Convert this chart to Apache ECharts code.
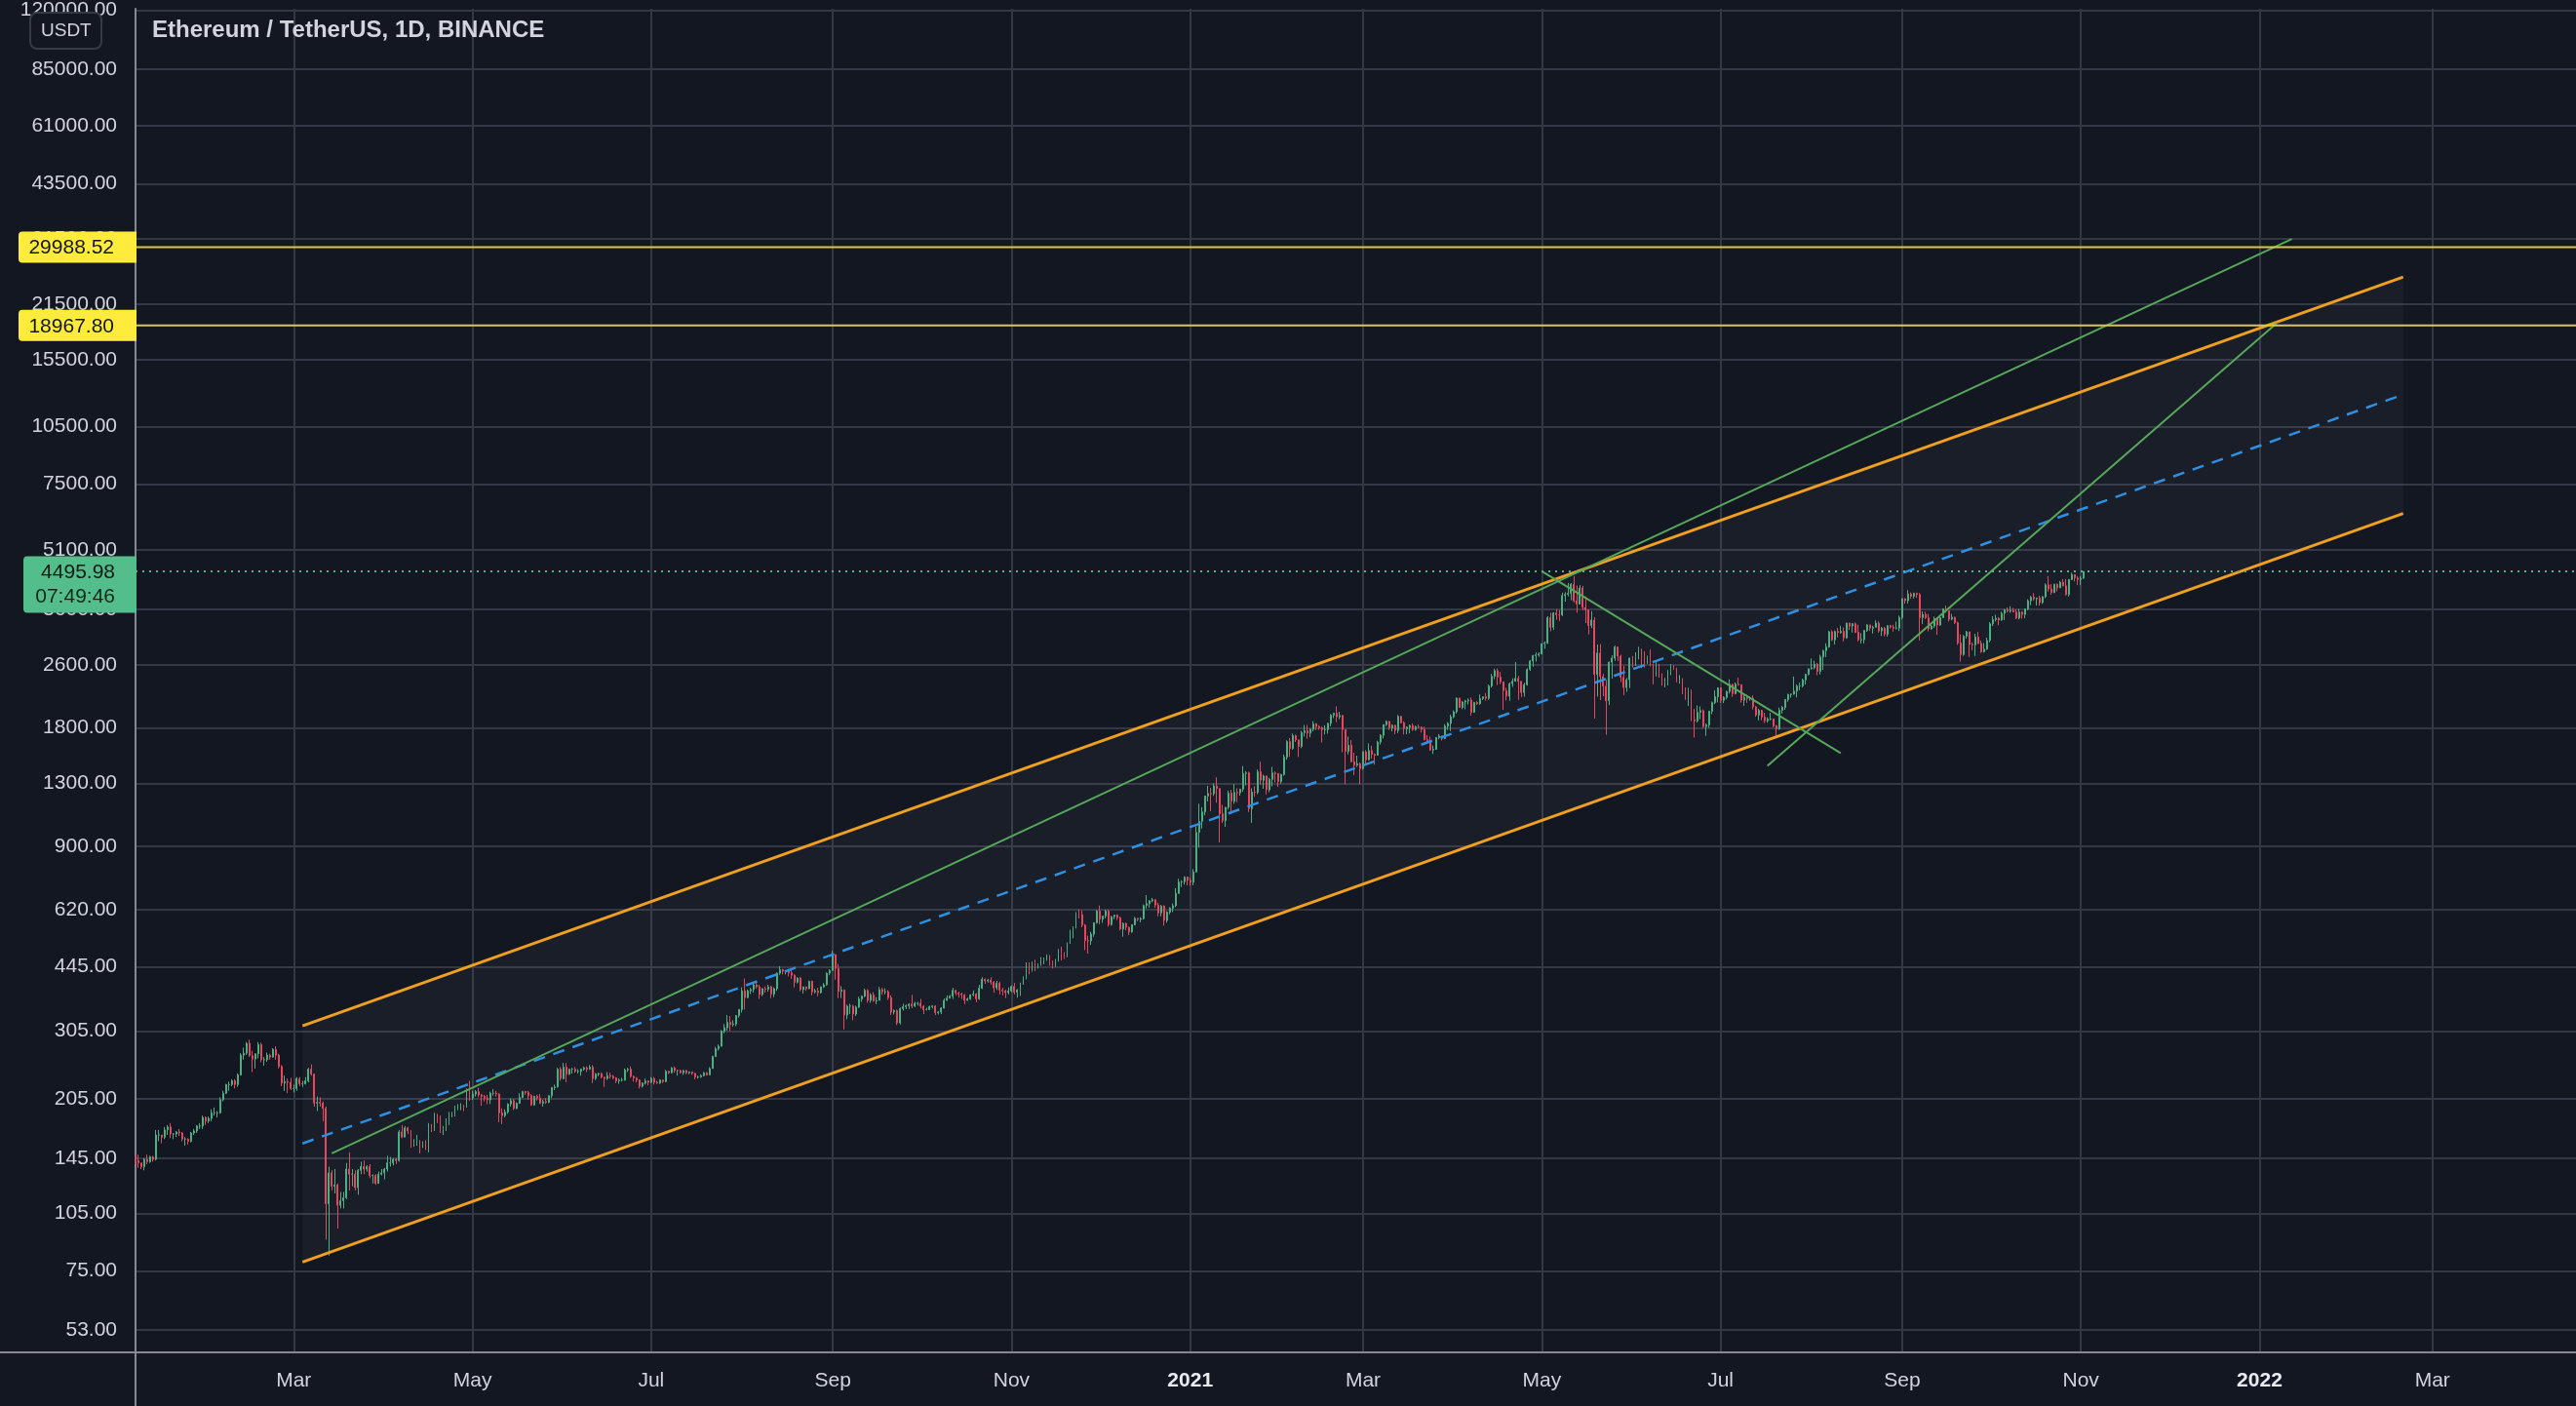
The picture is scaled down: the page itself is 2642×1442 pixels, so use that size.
<!DOCTYPE html>
<html><head><meta charset="utf-8">
<script src="https://cdn.jsdelivr.net/npm/echarts@6/dist/echarts.min.js"></script>
<style>html,body{margin:0;padding:0;background:#131722;}#chart{width:2642px;height:1442px;}</style>
</head><body><div id="chart"></div>
<script>
// ---- data ----
const startDate = '2020-01-07';
const endDate = '2022-04-19';
const firstOpen = 144;
// daily bars: [close, low, high]; open = previous close (24/7 market)
const bars = [
// 2020-01 (7..31)
[143,140,147],[141,137,148],[138,136,141],[144,135,145],[142,140,148],[146,141,147],[144,142,147],[166,143,171],[166,160,171],[164,158,166],[171,162,174],[174,166,176],[167,163,178],[167,162,168],[169,164,170],[168,165,172],[162,160,169],[162,156,164],[160,157,163],[168,159,169],[170,166,172],[175,168,176],[175,172,178],[184,172,186],[180,176,185],
// 2020-02
[183,178,185],[189,180,193],[189,186,195],[189,184,191],[204,188,207],[212,202,215],[223,211,224],[223,215,227],[228,221,230],[223,218,230],[236,220,238],[265,235,268],[268,258,277],[284,265,286],[264,262,290],[259,240,272],[267,245,268],[282,260,286],[258,254,285],[258,249,262],[265,255,269],[262,258,267],[274,261,276],[265,258,279],[248,245,267],[225,221,250],[227,215,235],[226,212,231],[218,216,232],
// 2020-03
[218,213,223],[231,215,233],[224,221,233],[224,220,228],[228,223,233],[244,226,246],[237,235,251],[200,196,238],[201,191,208],[200,196,207],[194,180,202],[111,90,196],[133,82,138],[123,120,135],[124,118,136],[110,96,125],[113,108,119],[115,108,119],[136,114,141],[132,120,150],[132,123,136],[122,120,135],[135,117,136],[138,132,142],[136,132,143],[138,134,139],[131,129,140],[131,125,132],[125,124,132],[132,125,134],[133,131,136],
// 2020-04
[136,128,137],[141,134,147],[141,138,146],[144,139,145],[143,140,145],[169,142,171],[164,163,176],[173,164,175],[170,167,174],[158,154,171],[158,155,162],[161,156,166],[156,149,161],[157,154,160],[153,152,161],[172,150,178],[171,169,177],[187,170,189],[180,178,188],[171,168,186],[171,166,175],[182,170,183],[185,176,190],[187,184,190],[194,185,197],[197,192,199],[197,192,200],[196,191,198],[216,195,218],[206,203,228],
// 2020-05
[211,204,215],[214,208,216],[210,207,219],[208,197,211],[206,202,210],[204,199,210],[212,199,214],[212,209,217],[211,208,215],[189,179,212],[186,177,194],[190,184,193],[199,188,200],[203,196,206],[194,192,205],[200,193,201],[207,199,212],[214,206,215],[213,210,215],[209,204,215],[198,197,211],[208,197,209],[206,203,210],[200,199,211],[202,196,204],[201,199,206],[209,200,210],[219,206,220],[220,216,223],[244,219,246],[231,228,247],
// 2020-06
[247,230,253],[237,226,253],[244,236,245],[244,238,246],[241,239,247],[241,238,244],[244,235,245],[246,242,248],[244,240,248],[247,243,250],[231,225,250],[237,229,239],[238,234,239],[233,231,239],[231,220,233],[235,229,240],[234,231,239],[232,230,236],[228,225,233],[229,224,231],[229,227,232],[243,228,245],[244,240,246],[234,232,248],[232,227,235],[229,226,233],[221,218,230],[225,219,226],[228,223,231],[226,222,228],
// 2020-07
[231,225,233],[226,223,233],[225,224,228],[229,224,230],[227,225,229],[241,226,243],[239,237,242],[246,238,247],[242,239,248],[242,235,243],[239,238,243],[242,236,243],[239,237,243],[240,237,241],[238,236,241],[233,230,239],[233,231,235],[235,232,237],[239,234,240],[236,235,240],[245,236,247],[263,245,264],[275,262,278],[279,272,282],[305,279,307],[311,301,318],[321,306,335],[317,305,333],[318,313,325],[334,314,335],[346,330,347],
// 2020-08
[386,340,394],[371,346,415],[386,370,389],[389,379,393],[400,382,403],[395,391,404],[378,368,400],[391,374,392],[390,382,396],[395,384,400],[379,370,398],[391,372,394],[428,386,430],[437,424,446],[433,425,439],[433,425,436],[429,420,439],[423,414,435],[406,394,425],[416,403,418],[389,385,418],[395,380,396],[391,386,396],[408,390,410],[384,376,410],[386,380,391],[382,374,393],[395,380,396],[400,393,404],[428,398,430],[435,423,438],
// 2020-09
[477,434,488],[440,412,478],[385,370,452],[388,370,397],[335,308,389],[353,327,356],[353,337,358],[337,325,356],[351,333,354],[368,349,373],[374,362,376],[387,372,391],[365,360,390],[377,360,381],[364,362,383],[365,357,372],[389,365,395],[384,377,393],[384,378,392],[371,366,388],[341,335,376],[344,336,346],[320,316,346],[348,317,350],[352,344,358],[354,347,356],[357,347,359],[353,349,377],[359,351,362],[359,354,362],
// 2020-10
[353,348,368],[346,337,355],[346,344,350],[352,345,354],[353,348,355],[340,335,355],[341,336,343],[349,337,351],[365,348,369],[370,364,376],[374,369,377],[387,368,393],[381,376,389],[379,371,384],[377,368,382],[365,357,379],[368,364,371],[377,366,378],[379,374,387],[368,361,381],[392,366,400],[413,390,418],[409,402,415],[411,405,414],[406,400,418],[393,382,409],[404,388,409],[388,378,407],[386,376,393],[382,370,389],[386,378,394],
// 2020-11
[396,383,399],[383,378,404],[388,371,390],[401,375,405],[415,400,420],[448,413,456],[435,425,456],[454,432,458],[444,433,463],[449,440,453],[462,447,470],[463,451,469],[475,460,478],[460,447,476],[448,440,461],[460,444,465],[482,458,493],[479,461,500],[471,465,484],[509,470,513],[549,508,552],[558,525,563],[609,556,612],[603,590,622],[567,560,618],[518,490,571],[517,480,533],[538,505,545],[575,530,576],[616,572,620],
// 2020-12
[587,570,636],[598,575,600],[616,590,621],[569,562,621],[596,565,598],[601,587,603],[592,584,604],[554,550,596],[573,530,576],[560,550,575],[545,535,562],[568,542,570],[590,566,595],[586,580,591],[589,576,594],[636,586,640],[643,625,676],[654,628,656],[658,648,665],[638,628,660],[609,597,647],[634,597,638],[583,565,637],[612,575,615],[626,604,630],[635,612,644],[683,630,704],[730,681,744],[731,709,738],[751,719,755],[737,716,754],
// 2021-01
[729,715,749],[774,716,787],[976,772,1011],[1041,892,1154],[1100,998,1132],[1208,1078,1209],[1225,1170,1282],[1224,1105,1266],[1281,1208,1300],[1262,1160,1347],[1088,920,1262],[1045,1031,1147],[1130,1008,1132],[1229,1115,1246],[1171,1085,1252],[1233,1153,1295],[1230,1165,1263],[1257,1210,1260],[1377,1238,1440],[1382,1284,1396],[1121,1100,1392],[1236,1032,1263],[1233,1202,1278],[1392,1220,1410],[1324,1290,1476],[1357,1260,1368],[1253,1218,1361],[1331,1235,1343],[1382,1277,1431],[1377,1308,1394],[1314,1274,1379],
// 2021-02
[1369,1297,1376],[1515,1359,1539],[1660,1493,1673],[1594,1519,1695],[1719,1582,1740],[1677,1656,1731],[1614,1517,1679],[1750,1597,1768],[1768,1710,1830],[1744,1688,1830],[1784,1703,1793],[1843,1762,1871],[1813,1777,1849],[1800,1778,1827],[1780,1651,1812],[1781,1732,1826],[1847,1739,1855],[1937,1816,1951],[1960,1905,1966],[1919,1860,2041],[1935,1892,1978],[1781,1560,1938],[1569,1293,1582],[1625,1540,1710],[1475,1471,1675],[1446,1364,1556],[1459,1431,1529],[1417,1293,1468],
// 2021-03
[1564,1409,1569],[1492,1460,1580],[1575,1488,1643],[1541,1502,1620],[1533,1450,1550],[1655,1530,1669],[1723,1632,1734],[1834,1690,1836],[1868,1817,1880],[1799,1776,1873],[1826,1762,1838],[1772,1734,1832],[1924,1745,1940],[1855,1846,1932],[1792,1731,1869],[1806,1733,1815],[1823,1742,1835],[1782,1767,1847],[1811,1768,1823],[1806,1795,1835],[1782,1749,1815],[1681,1670,1812],[1669,1641,1725],[1581,1573,1710],[1587,1544,1623],[1701,1582,1703],[1716,1683,1735],[1691,1670,1720],[1817,1683,1839],[1846,1778,1862],[1919,1766,1943],
// 2021-04
[1977,1902,1993],[2142,1955,2150],[2028,2021,2145],[2093,2007,2107],[2107,2006,2120],[2118,2063,2138],[1971,1933,2148],[2088,1966,2095],[2072,2055,2103],[2135,2060,2188],[2157,2117,2165],[2139,2109,2206],[2299,2120,2318],[2432,2278,2469],[2514,2393,2544],[2422,2312,2547],[2355,2324,2497],[2237,2000,2359],[2166,2113,2275],[2330,2109,2348],[2364,2287,2403],[2403,2357,2644],[2363,2120,2439],[2214,2155,2363],[2316,2160,2341],[2534,2301,2549],[2662,2513,2676],[2746,2575,2757],[2756,2651,2797],[2772,2726,2800],
// 2021-05
[2945,2767,2951],[2950,2857,2985],[3431,2942,3458],[3240,3165,3530],[3524,3190,3542],[3490,3387,3606],[3484,3362,3587],[3902,3463,3970],[3928,3766,3980],[3952,3884,4200],[4168,3796,4200],[3785,3746,4372],[3715,3526,4140],[4079,3705,4148],[3641,3583,4130],[3587,3321,3881],[3276,3110,3588],[3380,3227,3563],[2460,1900,3438],[2786,2160,2930],[2430,2115,2938],[2296,2165,2472],[2109,1728,2383],[2643,2055,2652],[2706,2401,2750],[2888,2663,2912],[2736,2660,2891],[2422,2352,2761],[2278,2180,2586],[2385,2221,2410],[2706,2271,2712],
// 2021-06
[2634,2560,2740],[2706,2585,2800],[2855,2686,2890],[2689,2550,2858],[2628,2560,2817],[2712,2616,2744],[2593,2580,2846],[2517,2321,2621],[2610,2430,2640],[2472,2413,2618],[2353,2303,2475],[2372,2280,2410],[2508,2308,2524],[2590,2450,2613],[2549,2525,2600],[2367,2350,2560],[2373,2330,2450],[2225,2190,2405],[2178,2120,2280],[2245,2045,2275],[1889,1872,2250],[1875,1700,2010],[1972,1857,2052],[1990,1893,2040],[1813,1800,2005],[1829,1717,1845],[1982,1800,1990],[2085,1950,2100],[2160,2068,2240],[2274,2090,2280],
// 2021-07
[2113,2081,2276],[2150,2080,2165],[2226,2125,2236],[2322,2200,2390],[2198,2157,2321],[2323,2188,2346],[2316,2302,2411],[2116,2085,2323],[2147,2048,2190],[2138,2083,2185],[2139,2108,2160],[2035,2004,2176],[1940,1920,2044],[1994,1880,2012],[1917,1882,2000],[1876,1851,1965],[1894,1855,1914],[1896,1880,1965],[1820,1805,1900],[1787,1717,1831],[1995,1780,2026],[2027,1955,2046],[2124,2000,2130],[2188,2095,2196],[2191,2145,2198],[2231,2185,2430],[2298,2150,2319],[2299,2240,2345],[2382,2278,2400],[2461,2318,2471],[2542,2446,2550],
// 2021-08
[2558,2530,2700],[2610,2534,2665],[2504,2450,2630],[2724,2460,2760],[2827,2525,2842],[2890,2723,2952],[3157,2876,3174],[3012,2990,3185],[3163,2930,3180],[3141,3056,3230],[3164,3125,3270],[3047,2985,3237],[3321,3030,3330],[3266,3190,3330],[3310,3143,3322],[3147,3132,3335],[3011,2985,3290],[3017,2950,3130],[3181,2950,3188],[3287,3156,3300],[3225,3175,3275],[3241,3125,3272],[3322,3240,3375],[3173,3140,3358],[3225,3080,3249],[3111,3075,3250],[3271,3070,3285],[3244,3220,3290],[3224,3160,3290],[3225,3200,3350],[3430,3170,3470],
// 2021-09
[3834,3396,3838],[3788,3725,3840],[3941,3722,4027],[3887,3834,3972],[3952,3836,3970],[3926,3851,3970],[3428,3000,3960],[3497,3302,3555],[3427,3400,3550],[3211,3165,3505],[3266,3195,3295],[3407,3230,3452],[3285,3100,3433],[3430,3272,3444],[3611,3425,3618],[3570,3530,3679],[3398,3352,3580],[3433,3377,3503],[3329,3303,3452],[2958,2925,3353],[2763,2652,3108],[3077,2742,3099],[3155,3034,3174],[2931,2723,3160],[2925,2835,2967],[3063,2741,3119],[2948,2940,3154],[2807,2790,3001],[2852,2796,2955],[3001,2839,3050],
// 2021-10
[3308,2970,3340],[3391,3265,3460],[3418,3351,3490],[3381,3280,3440],[3517,3370,3550],[3588,3380,3610],[3563,3535,3640],[3576,3530,3665],[3545,3540,3630],[3419,3400,3600],[3543,3395,3610],[3492,3410,3550],[3604,3420,3620],[3786,3583,3820],[3867,3686,3896],[3831,3790,3960],[3848,3680,3855],[3746,3680,3900],[3877,3716,3891],[4155,3845,4190],[4056,3995,4375],[3972,3920,4169],[4168,3960,4182],[4084,4000,4185],[4219,4078,4250],[4131,4120,4294],[3925,3904,4300],[4287,3880,4300],[4414,4270,4460],[4324,4240,4395],[4288,4155,4375],
// 2021-11 (1..2)
[4322,4146,4380],[4495.98,4300,4500]
];
const priceTicks = [53,75,105,145,205,305,445,620,900,1300,1800,2600,3600,5100,7500,10500,15500,21500,31500,43500,61000,85000,120000];
const priceRange = [46.52, 121017];
const monthNames = ['Jan','Feb','Mar','Apr','May','Jun','Jul','Aug','Sep','Oct','Nov','Dec'];
// drawings: [date, price] anchor pairs
const channelUpper = [['2020-03-04', 314.6], ['2022-02-19', 25166]];
const channelLower = [['2020-03-04', 78.9], ['2022-02-19', 6311]];
const channelMid   = [['2020-03-04', 158.0], ['2022-02-19', 12654]];
const greenLineA = [['2020-03-14', 149.1], ['2022-01-12', 31447]];
const greenLineB = [['2021-05-01', 4500], ['2021-08-11', 1553]];
const greenLineC = [['2021-07-17', 1439.6], ['2022-01-07', 19279]];
const levels = [29988.52, 18967.80];
const lastPrice = 4495.98;
const countdown = '07:49:46';

// ---- helpers ----
const fmtDate = d => d.toISOString().slice(0, 10);
const dates = [];
for (let d = new Date(startDate + 'T00:00:00Z'); fmtDate(d) <= endDate; d.setUTCDate(d.getUTCDate() + 1)) dates.push(fmtDate(d));
const idx = s => dates.indexOf(s);

const candleData = [];
let prev = firstOpen;
bars.forEach(([c, l, h]) => {
  const o = prev;
  candleData.push([o, c, Math.min(l, o, c), Math.max(h, o, c)]);
  prev = c;
});
const seg = pts => pts.map(([d, p]) => [idx(d), p]);
const first = dates[0], last = dates[dates.length - 1];

const FONT = 'Liberation Sans, Arial, sans-serif';
const isTick = (i, v) => { const dd = v.slice(8, 10), mm = +v.slice(5, 7); return dd === '01' && mm % 2 === 1; };

const lineSeries = (pts, color, width, type, z) => ({
  type: 'line', data: seg(pts), symbol: 'none', silent: true, animation: false, z: z || 4,
  lineStyle: { color, width, type: type || 'solid' }
});

const chart = echarts.init(document.getElementById('chart'), null, { renderer: 'canvas' });
chart.setOption({
  backgroundColor: '#131722',
  animation: false,
  title: [
    { text: 'Ethereum / TetherUS, 1D, BINANCE', left: 156, top: 19, padding: 0,
      textStyle: { color: '#d1d4dc', fontSize: 24, fontWeight: 'bold', fontFamily: FONT } },
    { text: 'USDT', left: 31, top: 13, padding: [9, 11, 9, 11], backgroundColor: '#131722',
      borderColor: '#363a45', borderWidth: 2, borderRadius: 7,
      textStyle: { color: '#d1d4dc', fontSize: 19, fontWeight: 'normal', fontFamily: FONT } }
  ],
  grid: { left: 139, right: 0, top: 0, bottom: 55, containLabel: false },
  xAxis: {
    type: 'category', data: dates, boundaryGap: false,
    axisLine: { lineStyle: { color: '#868993', width: 2 } },
    axisTick: { show: false },
    axisLabel: {
      interval: isTick, margin: 19, color: '#d1d4dc', fontSize: 21, fontFamily: FONT,
      formatter: v => { const mm = +v.slice(5, 7); return mm === 1 ? '{y|' + v.slice(0, 4) + '}' : monthNames[mm - 1]; },
      rich: { y: { fontWeight: 'bold', color: '#e9ebf0', fontSize: 21, fontFamily: FONT } }
    },
    splitLine: { show: true, interval: isTick, lineStyle: { color: '#343844', width: 2 } }
  },
  yAxis: {
    type: 'log', logBase: 10, position: 'left', min: priceRange[0], max: priceRange[1],
    axisLine: { show: true, lineStyle: { color: '#868993', width: 2 } },
    axisTick: { show: false, customValues: priceTicks },
    axisLabel: { customValues: priceTicks, margin: 19, color: '#d1d4dc', fontSize: 21, fontFamily: FONT,
      formatter: v => Number(v).toFixed(2) },
    splitLine: { show: true, lineStyle: { color: '#343844', width: 2 } }
  },
  graphic: [
    { type: 'line', shape: { x1: 0, y1: 1387, x2: 139, y2: 1387 }, style: { stroke: '#868993', lineWidth: 2 }, silent: true },
    { type: 'line', shape: { x1: 139, y1: 1387, x2: 139, y2: 1442 }, style: { stroke: '#868993', lineWidth: 2 }, silent: true }
  ],
  series: [
    { // channel background
      type: 'custom', silent: true, z: 1, clip: true, data: [[0, 100]],
      renderItem: (params, api) => {
        const pts = [channelUpper[0], channelUpper[1], channelLower[1], channelLower[0]].map(([d, p]) => api.coord([idx(d), p]));
        return { type: 'polygon', shape: { points: pts }, style: { fill: 'rgba(140,165,155,0.055)' } };
      }
    },
    {
      type: 'candlestick', data: candleData, large: false, barWidth: 1.4, z: 2, silent: true, animation: false,
      itemStyle: { color: '#4caf82', color0: '#e5475c', borderColor: '#4caf82', borderColor0: '#e5475c', borderWidth: 1 }
    },
    lineSeries(channelUpper, '#f0a020', 3),
    lineSeries(channelLower, '#f0a020', 3),
    lineSeries(channelMid, '#2f8fe0', 2.5, [12, 9]),
    lineSeries(greenLineA, '#56a85a', 2),
    lineSeries(greenLineB, '#56a85a', 2),
    lineSeries(greenLineC, '#56a85a', 2),
    lineSeries([[first, levels[0]], [last, levels[0]]], '#d7cb3c', 2, 'solid', 5),
    lineSeries([[first, levels[1]], [last, levels[1]]], '#d7cb3c', 2, 'solid', 5),
    lineSeries([[first, lastPrice], [last, lastPrice]], '#4fb48a', 2, [2, 5], 5),
    { // axis tags for horizontal levels
      type: 'custom', silent: true, z: 20, clip: false,
      data: levels.map(p => [0, p]),
      renderItem: (params, api) => {
        const pt = api.coord([api.value(0), api.value(1)]);
        return { type: 'group', children: [
          { type: 'rect', shape: { x: pt[0] - 120, y: pt[1] - 16, width: 121, height: 32, r: [4, 0, 0, 4] }, style: { fill: '#ffeb3b' } },
          { type: 'text', style: { x: pt[0] - 22, y: pt[1] + 1, text: levels[params.dataIndex].toFixed(2), align: 'right', verticalAlign: 'middle', fill: '#131722', font: '21px ' + FONT } }
        ] };
      }
    },
    { // last price tag
      type: 'custom', silent: true, z: 20, clip: false,
      data: [[0, lastPrice]],
      renderItem: (params, api) => {
        const pt = api.coord([api.value(0), api.value(1)]);
        return { type: 'group', children: [
          { type: 'rect', shape: { x: pt[0] - 115, y: pt[1] - 15.5, width: 116, height: 58, r: [4, 0, 0, 4] }, style: { fill: '#53bd8b' } },
          { type: 'text', style: { x: pt[0] - 21, y: pt[1] + 1, text: lastPrice.toFixed(2), align: 'right', verticalAlign: 'middle', fill: '#0e1a14', font: '21px ' + FONT } },
          { type: 'text', style: { x: pt[0] - 21, y: pt[1] + 26, text: countdown, align: 'right', verticalAlign: 'middle', fill: '#0e2a1a', font: '21px ' + FONT } }
        ] };
      }
    }
  ]
});
</script></body></html>
